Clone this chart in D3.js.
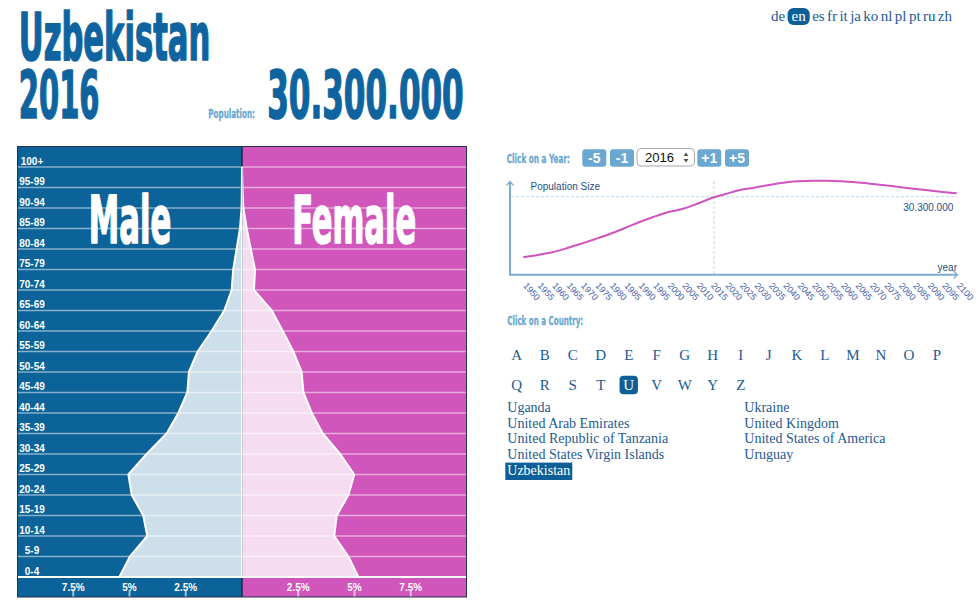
<!DOCTYPE html>
<html><head><meta charset="utf-8">
<script src="https://cdn.jsdelivr.net/npm/d3@7/dist/d3.min.js"></script>
<style>
html,body{margin:0;padding:0;background:#fff;}
svg{display:block;}
</style></head><body>
<svg id="c" width="980" height="616"></svg>
<script>
// ---------------- DATA ----------------
const countryName = "Uzbekistan";
const currentYear = 2016;
const currentPopulation = 30.3;            // millions
const populationLabel = "30.300.000";
const ageGroups = ["0-4","5-9","10-14","15-19","20-24","25-29","30-34","35-39","40-44","45-49",
  "50-54","55-59","60-64","65-69","70-74","75-79","80-84","85-89","90-94","95-99","100+"];
const malePct   = [5.45,4.98,4.21,4.39,4.90,5.05,4.24,3.35,2.83,2.43,2.36,1.97,1.35,0.79,0.46,0.39,0.24,0.09,0.02,0.005,0.0];
const femalePct = [5.17,4.73,4.10,4.21,4.73,4.99,4.36,3.59,3.10,2.73,2.65,2.28,1.81,1.32,0.53,0.58,0.39,0.21,0.06,0.02,0.0];
const pctTicks = [2.5, 5, 7.5];
const pctTickLabels = ["2.5%","5%","7.5%"];
const years = [1950,1955,1960,1965,1970,1975,1980,1985,1990,1995,2000,2005,2010,2015,2020,2025,
  2030,2035,2040,2045,2050,2055,2060,2065,2070,2075,2080,2085,2090,2095,2100];
const popMillions = [6.76,7.65,8.70,10.26,12.04,13.87,15.81,18.03,20.36,22.42,24.24,25.52,27.47,29.68,31.35,32.91,
  33.80,34.85,35.74,36.29,36.52,36.52,36.29,35.90,35.35,34.73,34.07,33.41,32.79,32.13,31.62];
const languages = ["de","en","es","fr","it","ja","ko","nl","pl","pt","ru","zh"];
const activeLanguage = "en";
const yearButtons = ["-5","-1","+1","+5"];
const lettersRow1 = ["A","B","C","D","E","F","G","H","I","J","K","L","M","N","O","P"];
const lettersRow2 = ["Q","R","S","T","U","V","W","Y","Z"];
const activeLetter = "U";
const countriesCol1 = ["Uganda","United Arab Emirates","United Republic of Tanzania","United States Virgin Islands","Uzbekistan"];
const countriesCol2 = ["Ukraine","United Kingdom","United States of America","Uruguay"];

// ---------------- STYLE ----------------
const COND = "'Liberation Sans Narrow','DejaVu Sans Condensed','Arial Narrow',sans-serif";
const SANS = "'Liberation Sans',Arial,Helvetica,sans-serif";
const SERIF = "'Liberation Serif','Times New Roman',serif";
const BLUE = "#0f64a0", LIGHTBLUE = "#6aa8d1", MALE = "#0b6399", FEMALE = "#d056bb";
const MALE_L = "#cddfeb", FEMALE_L = "#f6dcf0", LINK = "#1d5a93", DARKSEL = "#0d5f98";

const svg = d3.select("#c");

// condensed heading text: natural glyphs squeezed horizontally to the target width
function condText(x, y, str, size, width, color, bold) {
  const g = svg.append("g");
  const t = g.append("text").attr("x", 0).attr("y", 0).text(str)
    .attr("font-family", COND).attr("font-weight", "bold").attr("font-size", size)
    .attr("fill", color);
  if (bold) t.attr("stroke", color).attr("stroke-width", bold).attr("stroke-linejoin", "round");
  const w = t.node().getComputedTextLength();
  g.attr("transform", `translate(${x},${y}) scale(${width / w},1)`);
  return g;
}

// ---------------- TITLE ----------------
condText(18.8, 60, countryName, 65, 191.5, BLUE, 1.6);
condText(18.8, 118.3, String(currentYear), 65, 80.7, BLUE, 1.6);
condText(267.2, 118.3, populationLabel, 65, 196.6, BLUE, 1.6);
condText(208.3, 118, "Population:", 13, 46.7, LIGHTBLUE, 0.3);

// ---------------- LANGUAGES ----------------
(function(){
  const g = svg.append("g");
  const texts = languages.map(l => g.append("text").text(l).attr("y", 20.5)
      .attr("font-family", SERIF).attr("font-size", 15).attr("fill", LINK));
  const widths = texts.map(t => t.node().getComputedTextLength());
  const left = 771, right = 952, pad = 4;
  const gap = (right - left - d3.sum(widths) - 2 * pad) / (languages.length - 1);
  let x = left;
  texts.forEach((t, i) => {
    const active = languages[i] === activeLanguage;
    if (active) x += pad;
    t.attr("x", x);
    if (active) {
      g.insert("rect", "text").attr("x", x - pad).attr("y", 8).attr("width", widths[i] + 2 * pad)
        .attr("height", 17).attr("rx", 6).attr("fill", DARKSEL);
      t.attr("fill", "#fff");
    }
    x += widths[i] + gap + (active ? pad : 0);
  });
})();

// ---------------- PYRAMID ----------------
const P = {left: 17, right: 467, top: 146.5, bottom: 577, axisBottom: 597, cx: 242};
const xs = d3.scaleLinear().domain([0, 10]).range([0, P.cx - P.left]);
const ys = d3.scaleBand().domain(ageGroups.slice().reverse()).range([P.top, P.bottom]);
const bw = ys.bandwidth();

svg.append("rect").attr("x", P.left).attr("y", P.top).attr("width", P.cx - P.left)
  .attr("height", P.axisBottom - P.top).attr("fill", MALE);
svg.append("rect").attr("x", P.cx).attr("y", P.top).attr("width", P.right - P.cx)
  .attr("height", P.axisBottom - P.top).attr("fill", FEMALE);

const line = d3.line();
function profile(vals, sign) {
  const pts = [[P.cx, P.bottom]];
  ageGroups.forEach((g, i) => pts.push([P.cx + sign * xs(vals[i]), ys(g) + bw]));
  pts.push([P.cx, ys(ageGroups[ageGroups.length - 1]) + bw]);
  return line(pts) + "Z";
}
svg.append("path").attr("d", profile(malePct, -1)).attr("fill", MALE_L)
  .attr("stroke", "#fff").attr("stroke-width", 2).attr("stroke-linejoin", "round");
svg.append("path").attr("d", profile(femalePct, 1)).attr("fill", FEMALE_L)
  .attr("stroke", "#fff").attr("stroke-width", 2).attr("stroke-linejoin", "round");

// center divider
svg.append("line").attr("x1", P.cx).attr("x2", P.cx).attr("y1", P.top)
  .attr("y2", ys("100+") + bw).attr("stroke", "#1c2444").attr("stroke-width", 1.5);
svg.append("line").attr("x1", P.cx).attr("x2", P.cx).attr("y1", P.bottom + 1)
  .attr("y2", P.axisBottom).attr("stroke", "#1c2444").attr("stroke-width", 1.5);
svg.append("line").attr("x1", P.cx + 0.5).attr("x2", P.cx + 0.5).attr("y1", ys("100+") + bw + 1)
  .attr("y2", P.bottom - 1).attr("stroke", "#c9c9d6").attr("stroke-width", 1);

// grid lines
svg.append("g").selectAll("line").data(ageGroups.slice(1)).join("line")
  .attr("x1", P.left).attr("x2", P.right)
  .attr("y1", d => ys(d) + bw).attr("y2", d => ys(d) + bw)
  .attr("stroke", "#fff").attr("stroke-opacity", 0.5).attr("stroke-width", 1.6);
svg.append("line").attr("x1", P.left).attr("x2", P.right).attr("y1", P.bottom).attr("y2", P.bottom)
  .attr("stroke", "#fff").attr("stroke-width", 2);

// age labels
svg.append("g").selectAll("text").data(ageGroups).join("text")
  .attr("x", 32).attr("y", d => ys(d) + bw - 2.5).attr("text-anchor", "middle")
  .attr("font-family", SANS).attr("font-weight", "bold").attr("font-size", 10)
  .attr("fill", "#fff").text(d => d);

// Male / Female labels
condText(88.8, 243.3, "Male", 66, 82.4, "#fff", 1.6);
condText(292.2, 243.3, "Female", 66, 124, "#fff", 1.6);

// bottom percentage axis
const axG = svg.append("g");
[-1, 1].forEach(sign => {
  pctTicks.forEach((t, i) => {
    const x = P.cx + sign * xs(t);
    axG.append("line").attr("x1", x).attr("x2", x).attr("y1", 590).attr("y2", P.axisBottom)
      .attr("stroke", "#fff").attr("stroke-opacity", 0.6).attr("stroke-width", 2);
    axG.append("text").attr("x", x).attr("y", 591).attr("text-anchor", "middle")
      .attr("font-family", SANS).attr("font-weight", "bold").attr("font-size", 10)
      .attr("fill", "#fff").text(pctTickLabels[i]);
  });
});

// border
svg.append("rect").attr("x", P.left + 0.5).attr("y", P.top).attr("width", P.right - P.left - 1)
  .attr("height", P.axisBottom - P.top).attr("fill", "none").attr("stroke", "#2a2f4e").attr("stroke-width", 1);

// ---------------- YEAR CONTROLS ----------------
condText(506.7, 162.7, "Click on a Year:", 13, 63.3, LIGHTBLUE, 0.3);
const btnX = [582.3, 610, 697.3, 725];
yearButtons.forEach((b, i) => {
  svg.append("rect").attr("x", btnX[i]).attr("y", 149.3).attr("width", 24).attr("height", 17.4)
    .attr("rx", 3).attr("fill", LIGHTBLUE);
  svg.append("text").attr("x", btnX[i] + 12).attr("y", 163).attr("text-anchor", "middle")
    .attr("font-family", SANS).attr("font-weight", "bold").attr("font-size", 14)
    .attr("fill", "#fff").text(b);
});
svg.append("rect").attr("x", 637).attr("y", 148.5).attr("width", 57.5).attr("height", 17.5)
  .attr("rx", 4).attr("fill", "#fff").attr("stroke", "#a9a9a9");
svg.append("text").attr("x", 645).attr("y", 162).attr("font-family", SANS).attr("font-size", 13)
  .attr("fill", "#111").text(String(currentYear));
svg.append("path").attr("d", "M683.5,156 L686,152.5 L688.5,156 Z M683.5,159 L686,162.5 L688.5,159 Z")
  .attr("fill", "#555");

// ---------------- POPULATION LINE CHART ----------------
const xY = d3.scaleLinear().domain([years[0], years[years.length - 1]]).range([523.3, 956.7]);
const yP = d3.scaleLinear().domain([0, d3.max(popMillions)]).range([274.7, 180.7]);
const AX = "#7aadd0";

// dashed guides
svg.append("line").attr("x1", xY(currentYear)).attr("x2", xY(currentYear)).attr("y1", 181).attr("y2", 274)
  .attr("stroke", "#bcd8ec").attr("stroke-dasharray", "3,2");
svg.append("line").attr("x1", 511).attr("x2", 957).attr("y1", yP(currentPopulation)).attr("y2", yP(currentPopulation))
  .attr("stroke", "#bcd8ec").attr("stroke-dasharray", "3,2");

// axes
svg.append("line").attr("x1", 510).attr("x2", 510).attr("y1", 182).attr("y2", 275.5)
  .attr("stroke", AX).attr("stroke-width", 2);
svg.append("line").attr("x1", 509).attr("x2", 957).attr("y1", 274.7).attr("y2", 274.7)
  .attr("stroke", AX).attr("stroke-width", 2);
svg.append("path").attr("d", "M506.5,185.5 L510,181.5 L513.5,185.5").attr("fill", "none")
  .attr("stroke", AX).attr("stroke-width", 1.3);
svg.append("path").attr("d", "M953.5,271 L957.5,274.7 L953.5,278.4").attr("fill", "none")
  .attr("stroke", AX).attr("stroke-width", 1.3);

svg.append("text").attr("x", 530.5).attr("y", 190).attr("font-family", SANS).attr("font-size", 10)
  .attr("fill", "#1e4f82").text("Population Size");
svg.append("text").attr("x", 957).attr("y", 271).attr("text-anchor", "end").attr("font-family", SANS)
  .attr("font-size", 10).attr("fill", "#1e4f82").text("year");
svg.append("text").attr("x", 953.3).attr("y", 210.7).attr("text-anchor", "end").attr("font-family", SANS)
  .attr("font-size", 10).attr("fill", "#1e4f82").text(populationLabel);

// population line
svg.append("path").datum(years.map((y, i) => [y, popMillions[i]]))
  .attr("d", d3.line().x(d => xY(d[0])).y(d => yP(d[1])).curve(d3.curveMonotoneX))
  .attr("fill", "none").attr("stroke", "#d054c0").attr("stroke-width", 2);

// year tick labels
const xAxis = d3.axisBottom(xY).tickValues(years).tickSize(0).tickFormat(d3.format("d"));
const xg = svg.append("g").attr("transform", "translate(0,286)").call(xAxis);
xg.select(".domain").remove();
xg.selectAll("text").attr("x", 0).attr("y", 0).attr("dy", null)
  .attr("transform", "translate(-1,0) rotate(48)").style("text-anchor", "start")
  .attr("font-family", SANS).attr("font-size", 9).attr("fill", "#4660aa");

// ---------------- COUNTRY PICKER ----------------
condText(507.3, 324.5, "Click on a Country:", 13, 76, LIGHTBLUE, 0.3);
function letterRow(list, y) {
  list.forEach((l, i) => {
    const cx = 516.7 + 28.01 * i;
    const active = l === activeLetter;
    if (active) svg.append("rect").attr("x", cx - 9.2).attr("y", y - 14.3).attr("width", 18.4)
      .attr("height", 18.6).attr("rx", 4).attr("fill", DARKSEL);
    svg.append("text").attr("x", cx).attr("y", y).attr("text-anchor", "middle")
      .attr("font-family", SERIF).attr("font-size", 15).attr("fill", active ? "#fff" : LINK).text(l);
  });
}
letterRow(lettersRow1, 360);
letterRow(lettersRow2, 390);

function countryCol(list, x) {
  list.forEach((c, i) => {
    const y = 411.7 + 15.85 * i;
    const active = c === countryName;
    const t = svg.append("text").attr("x", x).attr("y", y).attr("font-family", SERIF)
      .attr("font-size", 14).attr("fill", active ? "#fff" : LINK).text(c);
    if (active) {
      const w = t.node().getComputedTextLength();
      svg.append("rect").attr("x", x - 2).attr("y", y - 12.5).attr("width", w + 4)
        .attr("height", 17.4).attr("fill", DARKSEL);
      t.raise();
    }
  });
}
countryCol(countriesCol1, 507.3);
countryCol(countriesCol2, 744.3);
</script>
</body></html>
